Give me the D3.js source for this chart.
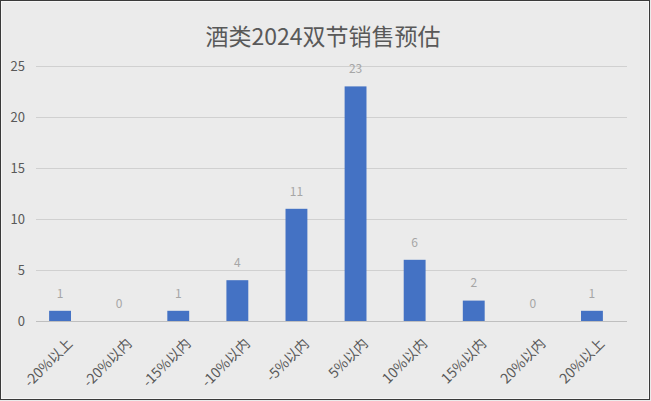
<!DOCTYPE html>
<html>
<head>
<meta charset="utf-8">
<script src="https://cdn.jsdelivr.net/npm/d3@7"></script>
<style>
  html, body { margin: 0; padding: 0; background: #ebebeb; }
  svg { display: block; font-family: "Noto Sans CJK SC", "Noto Sans", sans-serif; }
</style>
</head>
<body>
<div id="chart"></div>
<script>
const categories = ['-20%以上', '-20%以内', '-15%以内', '-10%以内', '-5%以内', '5%以内', '10%以内', '15%以内', '20%以内', '20%以上'];
const counts = [1, 0, 1, 4, 11, 23, 6, 2, 0, 1];
const yTicks = [0, 5, 10, 15, 20, 25];
const title = '酒类2024双节销售预估';

const W = 651, H = 401;
const svg = d3.select('#chart').append('svg').attr('width', W).attr('height', H);

// frame
svg.append('rect').attr('x', 0).attr('y', 0).attr('width', W).attr('height', H).attr('fill', '#ebebeb');
svg.append('rect').attr('x', 0.5).attr('y', 0.5).attr('width', W - 2).attr('height', H - 2)
  .attr('fill', 'none').attr('stroke', '#3a3a3a').attr('stroke-width', 1);
svg.append('rect').attr('x', 1.5).attr('y', 1.5).attr('width', W - 4).attr('height', H - 4)
  .attr('fill', 'none').attr('stroke', '#f6f6f6').attr('stroke-width', 1);

const y = d3.scaleLinear().domain([0, 25]).range([321, 66]);
const x = d3.scaleBand().domain(categories).range([30.5, 621.5]).paddingInner(0.63).paddingOuter(0.315);
const gridLeft = 36, gridRight = 627;

// title
svg.append('text')
  .attr('x', 323).attr('y', 45)
  .attr('text-anchor', 'middle')
  .attr('fill', '#595959')
  .style('font-size', '23px')
  .text(title);

// gridlines
svg.append('g').selectAll('line')
  .data(yTicks)
  .join('line')
    .attr('x1', gridLeft).attr('x2', gridRight)
    .attr('y1', d => Math.round(y(d)) + 0.5).attr('y2', d => Math.round(y(d)) + 0.5)
    .attr('stroke', d => d === 0 ? '#bfbfbf' : '#d0d0d0')
    .attr('stroke-width', 1);

// y tick labels
svg.append('g').selectAll('text')
  .data(yTicks)
  .join('text')
    .attr('x', 25).attr('y', d => y(d))
    .attr('dy', '0.35em')
    .attr('text-anchor', 'end')
    .attr('fill', '#595959')
    .style('font-size', '13px')
    .text(d => d);

// bars
svg.append('g').selectAll('rect')
  .data(counts)
  .join('rect')
    .attr('x', (d, i) => x(categories[i]))
    .attr('y', d => y(d))
    .attr('width', x.bandwidth())
    .attr('height', d => y(0) - y(d))
    .attr('fill', '#4472c4');

// value labels
svg.append('g').selectAll('text')
  .data(counts)
  .join('text')
    .attr('x', (d, i) => x(categories[i]) + x.bandwidth() / 2)
    .attr('y', d => y(d) - 17.5)
    .attr('dy', '0.35em')
    .attr('text-anchor', 'middle')
    .attr('fill', '#a6a6a6')
    .style('font-size', '12px')
    .text(d => d);

// category labels, rotated
svg.append('g').selectAll('text')
  .data(categories)
  .join('text')
    .attr('transform', d => `translate(${x(d) + x.bandwidth() / 2 + 10},${341}) rotate(-45)`)
    .attr('text-anchor', 'end')
    .attr('dy', '0.35em')
    .attr('fill', '#595959')
    .style('font-size', '14px')
    .text(d => d);
</script>
</body>
</html>
